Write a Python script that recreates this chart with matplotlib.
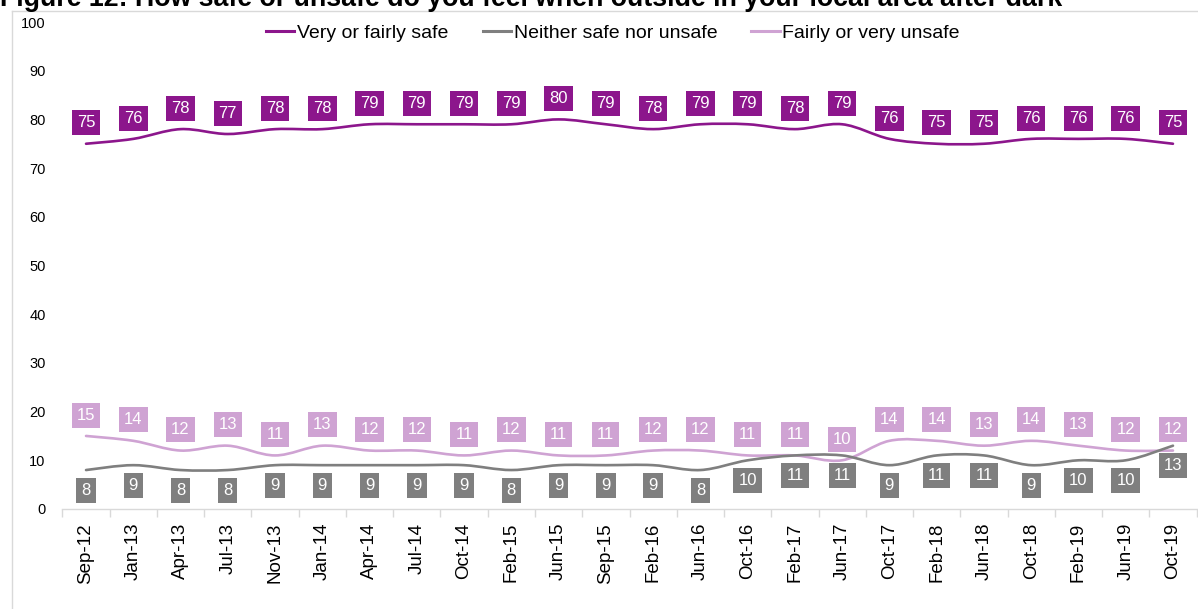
import matplotlib
matplotlib.use("Agg")
import matplotlib.pyplot as plt
from matplotlib.path import Path
from matplotlib.patches import PathPatch
from matplotlib.lines import Line2D
import numpy as np

plt.rcParams['font.family'] = ['Liberation Sans', 'DejaVu Sans']

categories = ["Sep-12", "Jan-13", "Apr-13", "Jul-13", "Nov-13", "Jan-14", "Apr-14", "Jul-14",
              "Oct-14", "Feb-15", "Jun-15", "Sep-15", "Feb-16", "Jun-16", "Oct-16", "Feb-17",
              "Jun-17", "Oct-17", "Feb-18", "Jun-18", "Oct-18", "Feb-19", "Jun-19", "Oct-19"]
safe = [75, 76, 78, 77, 78, 78, 79, 79, 79, 79, 80, 79, 78, 79, 79, 78, 79, 76, 75, 75, 76, 76, 76, 75]
neither = [8, 9, 8, 8, 9, 9, 9, 9, 9, 8, 9, 9, 9, 8, 10, 11, 11, 9, 11, 11, 9, 10, 10, 13]
unsafe = [15, 14, 12, 13, 11, 13, 12, 12, 11, 12, 11, 11, 12, 12, 11, 11, 10, 14, 14, 13, 14, 13, 12, 12]
series_names = ["Very or fairly safe", "Neither safe nor unsafe", "Fairly or very unsafe"]
title = "Figure 12: How safe or unsafe do you feel when outside in your local area after dark"

c_safe = "#8c168c"
c_neither = "#7f7f7f"
c_unsafe = "#cfa3d3"
c_frame = "#d9d9d9"

W, H = 1198, 609
fig = plt.figure(figsize=(W / 100, H / 100), dpi=100)
ax = fig.add_axes([62.4 / W, (H - 509) / H, (1196.6 - 62.4) / W, (509 - 22) / H])

x = np.arange(len(categories))


def smooth_path(xs, ys):
    pts = np.column_stack([xs, ys]).astype(float)
    n = len(pts)
    verts = [pts[0]]
    codes = [Path.MOVETO]
    for i in range(n - 1):
        p0 = pts[i - 1] if i > 0 else pts[i]
        p1 = pts[i]
        p2 = pts[i + 1]
        p3 = pts[i + 2] if i + 2 < n else pts[i + 1]
        c1 = p1 + (p2 - p0) / 6.0
        c2 = p2 - (p3 - p1) / 6.0
        verts += [c1, c2, p2]
        codes += [Path.CURVE4] * 3
    return Path(verts, codes)


for vals, col, z in [(safe, c_safe, 3), (unsafe, c_unsafe, 3), (neither, c_neither, 4)]:
    ax.add_patch(PathPatch(smooth_path(x, vals), facecolor="none", edgecolor=col,
                           lw=1.9, zorder=z, capstyle="round"))

for vals, col, off in [(safe, c_safe, 15), (unsafe, c_unsafe, 15), (neither, c_neither, -14.5)]:
    for xi, v in zip(x, vals):
        ax.annotate(str(v), (xi, v), xytext=(0, off), textcoords="offset points",
                    ha="center", va="center", fontsize=12, color="white", zorder=6,
                    bbox=dict(boxstyle="square,pad=0.3", facecolor=col, edgecolor="none"))

ax.set_xlim(-0.5, len(categories) - 0.5)
ax.set_ylim(0, 100)
ax.set_yticks(range(0, 101, 10))
ax.set_xticks(x)
ax.set_xticklabels(categories, rotation=90, fontsize=13.5)
ax.set_xticks(np.arange(-0.5, len(categories), 1.0), minor=True)
ax.tick_params(axis="x", which="major", length=0, pad=10)
ax.tick_params(axis="x", which="minor", length=6, color=c_frame, width=1)
ax.tick_params(axis="y", length=0, labelsize=10.5, pad=12)
for s in ["top", "right", "left"]:
    ax.spines[s].set_visible(False)
ax.spines["bottom"].set_color(c_frame)
ax.spines["bottom"].set_linewidth(1)

handles = [Line2D([], [], color=c, lw=2.2) for c in (c_safe, c_neither, c_unsafe)]
fig.legend(handles, series_names, loc="center", bbox_to_anchor=(613 / W, 1 - 33 / H),
           ncol=3, frameon=False, fontsize=14, handlelength=1.45, handletextpad=0.15,
           columnspacing=1.75, borderpad=0)

# chart frame
fig.add_artist(Line2D([11.7 / W, 1], [1 - 10.7 / H, 1 - 10.7 / H], transform=fig.transFigure,
                      color=c_frame, lw=1))
fig.add_artist(Line2D([11.7 / W, 11.7 / W], [0, 1 - 10.7 / H], transform=fig.transFigure,
                      color=c_frame, lw=1))

fig.text(0, 1 - 6 / H, title, ha="left", va="baseline", fontsize=19.3, fontweight="bold")

fig.savefig("out.png", dpi=100)
